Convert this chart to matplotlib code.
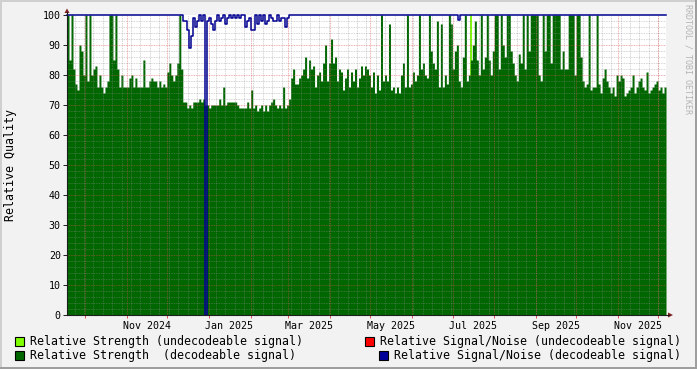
import matplotlib
matplotlib.use('Agg')
import matplotlib.pyplot as plt
import matplotlib.dates as mdates
import numpy as np
import pandas as pd
from datetime import datetime
from matplotlib.lines import Line2D
from matplotlib.patches import Rectangle, Polygon

plt.rcParams['font.family'] = ['DejaVu Sans Mono']

# ---------------- data ----------------
start_time = datetime(2024, 9, 17, 10)
end_time = datetime(2025, 12, 6, 17)

# Relative Strength (decodeable signal), one value per column step
strength_decodeable = [
    100, 85, 100, 82, 77, 75, 90, 88, 80, 100, 78, 100, 80, 82, 83, 76, 80, 76, 74, 76,
    78, 100, 100, 85, 100, 82, 76, 80, 76, 76, 76, 79, 80, 76, 79, 76, 76, 76, 85, 76,
    76, 78, 79, 78, 78, 76, 78, 76, 77, 76,
    81, 84, 80, 78, 80, 84, 100, 82, 71, 71, 69, 70, 69, 71, 71, 71, 72, 71, 72, 70,
    70, 69, 70, 70, 70, 70, 72, 70, 76, 70, 71, 71, 71, 71, 71, 70, 69, 69, 69, 69,
    71, 69, 75, 69, 70, 68, 69, 70, 68, 70,
    68, 70, 71, 72, 70, 69, 70, 69, 76, 69, 70, 72, 79, 82, 77, 77, 79, 80, 82, 86,
    79, 85, 82, 83, 76, 80, 81, 78, 84, 90, 78, 84, 92, 84, 86, 78, 82, 81, 75, 79,
    82, 76, 81, 78, 82, 76, 79, 83, 80, 83,
    82, 80, 76, 81, 74, 80, 75, 100, 78, 80, 78, 97, 75, 76, 74, 76, 74, 80, 84, 76,
    100, 76, 77, 81, 78, 80, 100, 82, 84, 80, 79, 100, 88, 84, 82, 98, 76, 97, 76, 80,
    77, 100, 97, 82, 88, 90, 78, 76, 86, 100,
    78, 80, 85, 90, 98, 85, 80, 100, 82, 86, 100, 85, 80, 88, 100, 100, 82, 100, 90, 86,
    100, 100, 88, 84, 80, 78, 87, 84, 100, 82, 100, 88, 100, 100, 100, 100, 80, 78, 100, 88,
    100, 100, 84, 100, 100, 100, 100, 82, 88, 82,
    82, 100, 100, 100, 80, 100, 100, 86, 78, 76, 77, 100, 75, 76, 76, 100, 77, 74, 79, 82,
    78, 76, 74, 76, 73, 80, 78, 80, 79, 73, 74, 75, 76, 80, 74, 76, 78, 79, 76, 75,
    81, 74, 75, 76, 77, 78, 75, 76, 74, 76,
]

# Relative Signal/Noise (decodeable signal)
snr_decodeable = (
    [100] * 58
    + [98, 98, 95, 89, 93, 99, 96, 98, 100, 98, 100, 0, 98, 99, 97, 95, 98, 100, 98, 99,
       100, 97, 99, 100, 99, 100, 99, 100, 99, 100, 100, 96, 98, 99, 95, 95, 100, 97, 100, 98,
       100, 97,
       98, 100, 99, 98, 98, 100, 98, 99, 99, 96, 99]
    + [100] * 85
    + [98.5]
    + [100] * 103
)

# Relative Strength (undecodeable signal): sparse samples
strength_undecodeable_dates = [datetime(2025, 7, 14, 1)]
strength_undecodeable_vals = [100]

# Relative Signal/Noise (undecodeable signal): no samples in range
snr_undecodeable_vals = []

x_labels = ['Nov 2024', 'Jan 2025', 'Mar 2025', 'May 2025', 'Jul 2025', 'Sep 2025', 'Nov 2025']
x_label_dates = [datetime(2024, 11, 16), datetime(2025, 1, 16), datetime(2025, 3, 16),
                 datetime(2025, 5, 16), datetime(2025, 7, 16), datetime(2025, 9, 16),
                 datetime(2025, 11, 16)]
y_ticks = [0, 10, 20, 30, 40, 50, 60, 70, 80, 90, 100]

legend_entries = [
    ('Relative Strength (undecodeable signal)', '#7FFF00'),
    ('Relative Strength  (decodeable signal)', '#006600'),
    ('Relative Signal/Noise (undecodeable signal)', '#FF0000'),
    ('Relative Signal/Noise (decodeable signal)', '#000099'),
]

# ---------------- figure ----------------
W, H = 697, 369
fig = plt.figure(figsize=(W / 100, H / 100), dpi=100, facecolor='#F2F2F2')


def fx(px):
    return px / W


def fy(py):
    return 1 - py / H


ax = fig.add_axes([fx(67), fy(315), fx(666) - fx(67), fy(15) - fy(315)])
ax.set_facecolor('white')

t0 = mdates.date2num(start_time)
t1 = mdates.date2num(end_time)
n = len(strength_decodeable)
edges = np.linspace(t0, t1, n + 1)
step = (t1 - t0) / n

# undecodeable strength (drawn beneath)
for d, v in zip(strength_undecodeable_dates, strength_undecodeable_vals):
    ax.bar(mdates.date2num(d), v, width=step, align='edge', color='#7FFF00',
           linewidth=0, zorder=1.5)

sd = np.array(strength_decodeable, dtype=float)
ax.fill_between(edges, np.append(sd, sd[-1]), 0, step='post', color='#006600',
                linewidth=0, zorder=2)

# grid
grid_dash = (0, (1, 1))
weeks = pd.date_range('2024-09-16', '2025-12-08', freq='W-MON')
months = pd.date_range('2024-10-01', '2025-12-01', freq='MS')
for w in weeks:
    ax.axvline(w, color='#8F8F8F', alpha=0.5, lw=0.6, ls=grid_dash, zorder=3)
for m in months:
    ax.axvline(m, color='#DE4F4F', alpha=0.6, lw=0.6, ls=grid_dash, zorder=3.1)
for yv in range(2, 100, 2):
    if yv % 10:
        ax.axhline(yv, color='#8F8F8F', alpha=0.5, lw=0.6, ls=grid_dash, zorder=3)
for yv in range(10, 100, 10):
    ax.axhline(yv, color='#DE4F4F', alpha=0.6, lw=0.6, ls=grid_dash, zorder=3.1)

snr = np.array(snr_decodeable, dtype=float)
ax.step(edges, np.append(snr, snr[-1]), where='post', color='#000090', lw=1.1,
        zorder=4, clip_on=False)

ax.set_xlim(t0, t1)
ax.set_ylim(0, 100)
for s in ax.spines.values():
    s.set_visible(False)

ax.set_xticks([mdates.date2num(d) for d in x_label_dates])
ax.set_xticklabels(x_labels)
ax.set_xticks([mdates.date2num(m) for m in months], minor=True)
ax.tick_params(axis='x', which='major', length=0, pad=4.5, labelsize=7.2, colors='#000000')
ax.tick_params(axis='x', which='minor', length=2.5, width=0.7, color='#DE4F4F', direction='out')
ax.set_yticks(y_ticks)
ax.set_yticklabels([str(v) for v in y_ticks])
ax.tick_params(axis='y', which='major', length=3, width=0.7, pad=1.5,
               labelsize=7.2, colors='#000000')
ax.tick_params(axis='y', which='major', color='#1F1F1F')

# axes lines and arrows
fig.add_artist(Line2D([fx(67), fx(67)], [fy(315), fy(12)], color='#1F1F1F', lw=0.8))
fig.add_artist(Line2D([fx(67), fx(669)], [fy(315), fy(315)], color='#1F1F1F', lw=0.8))
fig.add_artist(Polygon([[fx(64.5), fy(13)], [fx(69.5), fy(13)], [fx(67), fy(8.5)]],
                       closed=True, color='#801F1F', lw=0))
fig.add_artist(Polygon([[fx(668), fy(312.5)], [fx(668), fy(317.5)], [fx(673), fy(315)]],
                       closed=True, color='#801F1F', lw=0))

# y label
fig.text(fx(11), fy(165), 'Relative Quality', rotation=90, ha='center', va='center',
         fontsize=8.4, color='#000000')

# watermark
fig.text(fx(688), fy(4), 'RRDTOOL / TOBI OETIKER', rotation=270, ha='center', va='top',
         fontsize=6, color='#B4B4B4')

# legend
LFS = 8.35


def legend_box(x, y, color):
    fig.add_artist(Rectangle((fx(x), fy(y + 9)), 9 / W, 9 / H, facecolor=color,
                             edgecolor='#000000', lw=0.8))


legend_box(15, 336.5, legend_entries[0][1])
fig.text(fx(30), fy(341.5), legend_entries[0][0], ha='left', va='center', fontsize=LFS)
legend_box(15, 350.5, legend_entries[1][1])
fig.text(fx(30), fy(355.5), legend_entries[1][0], ha='left', va='center', fontsize=LFS)
legend_box(365, 336.5, legend_entries[2][1])
fig.text(fx(380), fy(341.5), legend_entries[2][0], ha='left', va='center', fontsize=LFS)
legend_box(379, 350.5, legend_entries[3][1])
fig.text(fx(394), fy(355.5), legend_entries[3][0], ha='left', va='center', fontsize=LFS)

# 3D-ish frame
fig.add_artist(Rectangle((0, 1 - 2 / H), 1, 2 / H, color='#CFCFCF', lw=0))
fig.add_artist(Rectangle((0, 0), 2 / W, 1, color='#CFCFCF', lw=0))
fig.add_artist(Rectangle((0, 0), 1, 2 / H, color='#9E9E9E', lw=0))
fig.add_artist(Rectangle((1 - 2 / W, 0), 2 / W, 1, color='#9E9E9E', lw=0))

fig.savefig('out.png', dpi=100, facecolor=fig.get_facecolor())
